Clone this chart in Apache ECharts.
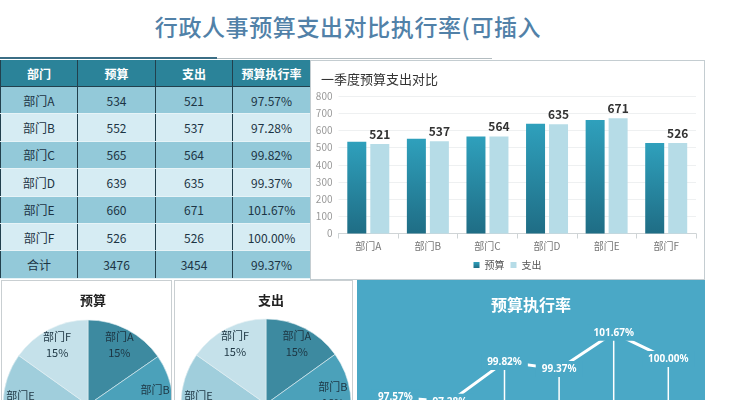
<!DOCTYPE html>
<html><head><meta charset="utf-8">
<script src="https://cdn.jsdelivr.net/npm/echarts@6/dist/echarts.min.js"></script>
<style>
html,body{margin:0;padding:0;width:750px;height:400px;overflow:hidden;background:#fff;font-family:"Noto Sans CJK SC",sans-serif;}
.abs{position:absolute;}
#title{left:0;top:9px;width:696px;text-align:center;font-size:23px;line-height:34px;color:#5181a8;letter-spacing:0.6px;font-weight:500;}
#ul1{left:0;top:57px;width:217px;height:2px;background:#3b6e85;}
#ul2{left:217px;top:58px;width:275px;height:1px;background:#b3bcc0;}
#tbl{left:0;top:60px;width:310px;border-collapse:collapse;table-layout:fixed;font-size:12px;color:#1c3444;}
#tbl td{text-align:center;padding:0;border-left:1px solid #22404d;border-right:1px solid #22404d;border-bottom:1px solid #e6f3f7;height:26.4px;}
#tbl tr.h td{background:#2b8399;color:#fff;font-weight:bold;height:26px;border-bottom:1px solid #22404d;}
#tbl tr.o td{background:#93c9d9;}
#tbl tr.e td{background:#d6ecf3;}
#bar{left:310px;top:60px;width:393px;height:218px;border:1px solid #c4cdd1;background:#fff;}
#pie1{left:1px;top:280px;width:169px;height:130px;border:1px solid #c9cfd2;background:#fff;}
#pie2{left:174px;top:280px;width:177px;height:130px;border:1px solid #c9cfd2;background:#fff;}
#line{left:357px;top:280px;width:348px;height:200px;background:#4aa8c6;}
</style></head>
<body>
<div id="title" class="abs">行政人事预算支出对比执行率(可插入</div>
<div id="ul1" class="abs"></div><div id="ul2" class="abs"></div>
<table id="tbl" class="abs"></table>
<div id="bar" class="abs"></div>
<div id="pie1" class="abs"></div>
<div id="pie2" class="abs"></div>
<div id="line" class="abs"></div>
<script>
const departments = ['部门A','部门B','部门C','部门D','部门E','部门F'];
const budget = [534,552,565,639,660,526];
const expense = [521,537,564,635,671,526];
const rates = [97.57,97.28,99.82,99.37,101.67,100.00];
const headers = ['部门','预算','支出','预算执行率'];
const totalRow = ['合计', 3476, 3454, '99.37%'];
const seriesNames = ['预算','支出'];
const pieColors = ['#3d8aa0','#4ba1ba','#5fb0c6','#7dbfd1','#a0cedc','#c5e1ea'];

// table
const tbl = document.getElementById('tbl');
let html = '<colgroup><col style="width:77px"><col style="width:78px"><col style="width:77px"><col style="width:78px"></colgroup>';
html += '<tr class="h">' + headers.map(h=>'<td>'+h+'</td>').join('') + '</tr>';
departments.forEach((d,i)=>{
  html += '<tr class="'+(i%2===0?'o':'e')+'"><td>'+d+'</td><td>'+budget[i]+'</td><td>'+expense[i]+'</td><td>'+rates[i].toFixed(2)+'%</td></tr>';
});
html += '<tr class="o">' + totalRow.map(v=>'<td>'+v+'</td>').join('') + '</tr>';
tbl.innerHTML = html;

const FF = '"Noto Sans CJK SC", sans-serif';

// bar chart
const bar = echarts.init(document.getElementById('bar'));
bar.setOption({
  animation:false,
  textStyle:{fontFamily:FF},
  title:{text:'一季度预算支出对比',left:5,top:7,textStyle:{fontSize:13,fontWeight:'normal',color:'#333'}},
  legend:{bottom:4,left:'center',itemWidth:6,itemHeight:6,itemGap:6,icon:'rect',textStyle:{fontSize:10,color:'#555'},data:seriesNames},
  grid:{left:27.5,right:8,top:35,bottom:45.5},
  xAxis:{type:'category',data:departments,axisLine:{lineStyle:{color:'#cfd4d6'}},axisTick:{show:true,lineStyle:{color:'#cfd4d6'}},axisLabel:{color:'#777',fontSize:10,margin:8}},
  yAxis:{type:'value',min:0,max:800,interval:100,axisLine:{show:false},axisTick:{show:false},axisLabel:{color:'#999',fontSize:10,margin:6},splitLine:{lineStyle:{color:'#eef0f1'}}},
  series:[
    {name:seriesNames[0],type:'bar',data:budget,barWidth:19,barGap:'21%',
     itemStyle:{color:new echarts.graphic.LinearGradient(0,0,0,1,[{offset:0,color:'#2fa0bc'},{offset:1,color:'#1f6d85'}])}},
    {name:seriesNames[1],type:'bar',data:expense,barWidth:19,
     itemStyle:{color:'#b6dce7'},
     label:{show:true,position:'top',distance:4,fontSize:12,fontWeight:'bold',color:'#333'}}
  ]
});

function pieOption(title, values, cx, cy){
  const data = departments.map((d,i)=>({name:d,value:values[i]}));
  return {
    animation:false,
    textStyle:{fontFamily:FF},
    title:{text:title,left:cx,top:8,textAlign:'center',textStyle:{fontSize:13,fontWeight:'bold',color:'#222'}},
    series:[
      {type:'pie',center:[cx,cy],radius:85,startAngle:90,clockwise:true,data:data,label:{show:false},labelLine:{show:false},
       color:pieColors,itemStyle:{borderColor:'#e4f0f4',borderWidth:0.6},silent:true},
      {type:'pie',center:[cx,cy],radius:[44,85],startAngle:90,clockwise:true,data:data,silent:true,
       itemStyle:{color:'rgba(0,0,0,0)'},labelLine:{show:false},
       label:{show:true,position:'inside',fontSize:11,color:'#1d3542',lineHeight:16,
         formatter:p=>p.name+'\n'+Math.round(p.percent)+'%'}}
    ]
  };
}
echarts.init(document.getElementById('pie1')).setOption(pieOption('预算', budget, 86, 124));
echarts.init(document.getElementById('pie2')).setOption(pieOption('支出', expense, 91, 123));

// line chart
const line = echarts.init(document.getElementById('line'));
line.setOption({
  animation:false,
  textStyle:{fontFamily:FF},
  title:{text:'预算执行率',left:'center',top:12,textStyle:{fontSize:16,fontWeight:'bold',color:'#fff'}},
  grid:{left:11,right:9.4,top:32,bottom:42.5},
  xAxis:{type:'category',data:departments,show:false},
  yAxis:{type:'value',min:95,max:103,show:false},
  series:[
    {type:'bar',data:rates,barWidth:1.5,itemStyle:{color:'#ffffff'},silent:true},
    {type:'line',data:rates,showSymbol:true,symbol:'circle',symbolSize:1,itemStyle:{color:'#ffffff'},lineStyle:{color:'#fff',width:3},z:3,
     label:{show:true,position:'inside',fontSize:10,fontWeight:'bold',color:'#fff',fontFamily:'"Noto Sans", sans-serif',
       backgroundColor:'#4aa8c6',padding:[3,6],formatter:p=>p.value.toFixed(2)+'%'}}
  ]
});
</script>
</body></html>
